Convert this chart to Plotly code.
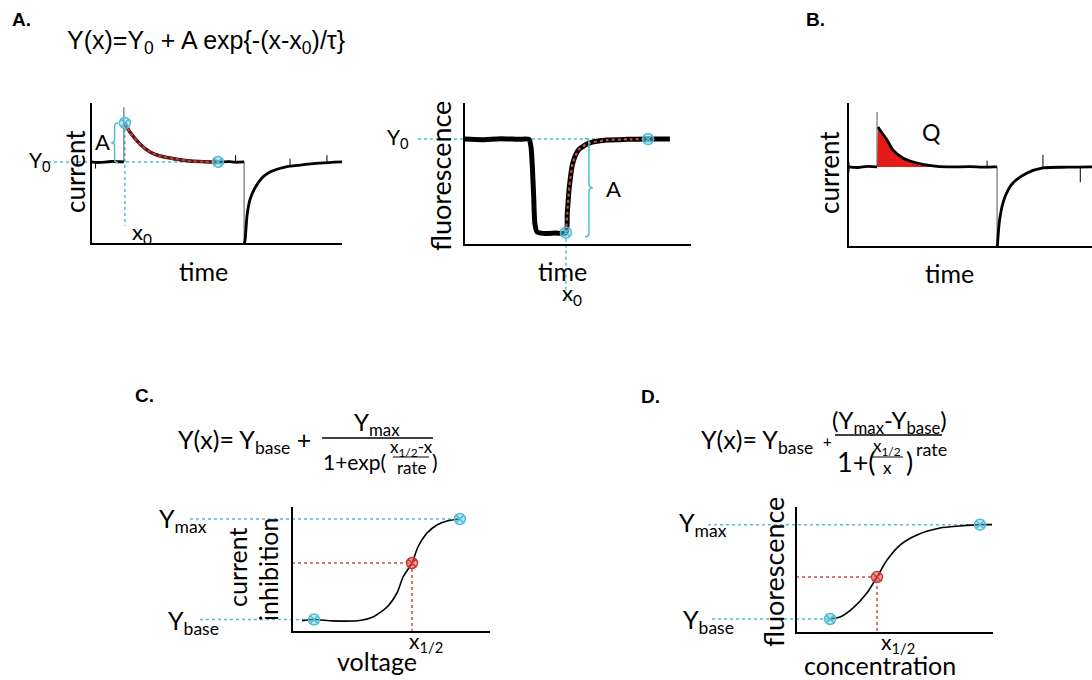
import plotly.graph_objects as go

W, H = 1092, 680

# ---------------- DATA (arbitrary units 0-100) ----------------
# Panel A (left): current trace
a1_time    = [0, 3, 8, 13.1, None, 13.5, 15.5, 19.5, 23.5, 27.5, 33.5, 39.4, 45.0, 50.6, 55.0, 57.4, 61.0,
              None, 61.1, 61.4, 62.2, 63.3, 65.3, 68.1, 71.3, 77.3, 83.3, 91.2, 100]
a1_current = [58.2, 57.8, 58.5, 58.2, None, 85.8, 79.4, 70.9, 65.2, 62.4, 60.3, 58.9, 58.4, 58.2, 58.4, 58.0, 58.2,
              None, 0.0, 2.8, 20.6, 31.2, 39.7, 46.8, 51.1, 54.6, 56.0, 57.4, 58.2]
a1_fit_time    = [13.5, 15.5, 19.5, 23.5, 27.5, 33.5, 39.4, 45.0, 50.6]
a1_fit_current = [85.8, 79.4, 70.9, 65.2, 62.4, 60.3, 58.9, 58.4, 58.2]
a1_transient_time    = [13.1, 13.1, None, 61.0, 61.0]
a1_transient_current = [97.0, 58.2, None, 58.2, 0.0]
a1_spike_time    = [1.8, 1.8, None, 57.6, 57.6, None, 79.3, 79.3, None, 94.0, 94.0]
a1_spike_current = [58.2, 53.5, None, 58.2, 63.0, None, 55.0, 60.5, None, 57.8, 63.0]
a1_points_time    = [13.5, 50.6]
a1_points_current = [85.8, 58.2]
a1_y0 = 58.2
a1_x0 = 13.5

# Panel A (right): fluorescence trace
a2_time  = [0, 8, 16, 24, 28.6, 29.5, 30.1, 30.7, 31.2, 32.1, 35.0, 40.0, 44.9, 45.5, 46.4, 47.9,
            50.4, 54.8, 62.9, 72.0, 81.1, 90.7]
a2_fluor = [74.6, 74.2, 74.9, 74.4, 74.4, 69.2, 55.2, 34.0, 15.3, 9.4, 8.2, 8.4, 8.7, 22.5, 41.0, 57.5,
            66.9, 71.6, 73.9, 74.4, 74.6, 74.6]
a2_fit_time  = [44.9, 45.5, 46.4, 47.9, 50.4, 54.8, 62.9, 72.0, 81.1]
a2_fit_fluor = [8.7, 22.5, 41.0, 57.5, 66.9, 71.6, 73.9, 74.4, 74.6]
a2_points_time  = [44.9, 81.1]
a2_points_fluor = [8.7, 74.6]
a2_y0 = 74.6
a2_x0 = 44.9

# Panel B: current trace with integrated charge Q
b_time    = [0, 4, 8, 11.9, None, 12.3, 13.1, 16.0, 18.4, 22.5, 28.3, 34.8, 40.6, 50.0, 55.0, 59.4, 61.1,
             None, 61.2, 62.3, 64.3, 67.6, 73.4, 79.9, 90.0, 100]
b_current = [55.6, 55.2, 56.0, 55.6, None, 83.3, 81.3, 74.3, 67.4, 61.8, 58.3, 56.3, 55.6, 55.8, 55.4, 55.6, 55.6,
             None, 0.0, 20.8, 34.7, 44.4, 51.4, 54.9, 55.4, 55.6]
b_spike_time    = [0.4, 0.4, None, 57.0, 57.0, None, 79.9, 79.9, None, 95.2, 95.2]
b_spike_current = [52.0, 59.0, None, 55.6, 60.0, None, 54.9, 64.0, None, 55.6, 45.0]
b_q_time    = [11.9, 12.3, 13.1, 16.0, 18.4, 22.5, 28.3, 34.8, 40.6, 50.0, 57.0]
b_q_current = [55.6, 83.3, 81.3, 74.3, 67.4, 61.8, 58.3, 56.3, 55.8, 55.6, 55.6]
b_baseline = 55.6
b_transient_time    = [11.9, 11.9, None, 61.1, 61.1]
b_transient_current = [93.8, 55.6, None, 55.6, 0.0]

# Panel C: current inhibition vs voltage (sigmoid)
c_voltage = [5.1, 11.1, 20.7, 34.3, 40.9, 48.0, 53.0, 56.1, 60.6, 63.6, 68.2, 73.2, 78.3, 84.8]
c_inhib   = [9.0, 10.0, 8.9, 9.2, 12.0, 20.0, 31.2, 44.0, 55.2, 68.0, 79.2, 85.6, 88.8, 90.4]
c_ybase, c_ymax = 10.0, 90.4
c_xhalf, c_yhalf = 60.6, 55.2
c_base_x, c_max_x = 11.1, 84.8

# Panel D: fluorescence vs concentration (Hill)
d_conc  = [17.3, 22.3, 28.9, 36.0, 41.1, 46.2, 52.8, 61.4, 73.1, 83.2, 93.4, 99.5]
d_fluor = [11.1, 12.7, 19.8, 31.7, 44.4, 57.9, 69.8, 77.8, 83.3, 84.9, 86.0, 86.0]
d_ybase, d_ymax = 11.1, 86.0
d_xhalf, d_yhalf = 41.1, 44.4
d_base_x, d_max_x = 17.3, 93.4

# ---------------- STYLE ----------------
BODY = "Lato"
EQ = "Liberation Sans"
CYAN = "#52BCD6"
CYAN_FILL = "rgba(110,205,230,0.45)"
RED_DOT = "#C0504D"

fig = go.Figure()

# panel geometry in pixels: axis origin (ox, oy), px per unit, and the subplot box (L, T, R, B)
geom = {
    1: dict(ox=91, oy=244, sx=2.51, sy=1.41, box=(20, 90, 352, 310)),
    2: dict(ox=464, oy=245, sx=2.27, sy=1.42, box=(380, 90, 700, 320)),
    3: dict(ox=848, oy=247, sx=2.44, sy=1.44, box=(790, 90, 1092, 300)),
    4: dict(ox=292, oy=632, sx=1.98, sy=1.25, box=(150, 490, 500, 650)),
    5: dict(ox=796, oy=633, sx=1.97, sy=1.26, box=(660, 490, 1000, 650)),
}
layout_axes = {}
for n, g in geom.items():
    L, T, R, B = g["box"]
    sfx = "" if n == 1 else str(n)
    layout_axes["xaxis" + sfx] = dict(domain=[L / W, R / W],
                                      range=[(L - g["ox"]) / g["sx"], (R - g["ox"]) / g["sx"]],
                                      visible=False, anchor="y" + sfx, fixedrange=True)
    layout_axes["yaxis" + sfx] = dict(domain=[1 - B / H, 1 - T / H],
                                      range=[(g["oy"] - B) / g["sy"], (g["oy"] - T) / g["sy"]],
                                      visible=False, anchor="x" + sfx, fixedrange=True)


def ax(n):
    s = "" if n == 1 else str(n)
    return dict(xaxis="x" + s, yaxis="y" + s)


def line(n, x, y, color="black", width=2, dash=None, shape="linear", smoothing=0.8, **kw):
    ln = dict(color=color, width=width, dash=dash, shape=shape)
    if shape == "spline":
        ln["smoothing"] = smoothing
    fig.add_trace(go.Scatter(x=x, y=y, mode="lines", hoverinfo="skip", showlegend=False,
                             line=ln, **ax(n), **kw))


def points(n, x, y, fill, edge, size=11):
    fig.add_trace(go.Scatter(x=x, y=y, mode="markers", hoverinfo="skip", showlegend=False, cliponaxis=False,
                             marker=dict(symbol="circle-x", size=size, color=fill,
                                         line=dict(color=edge, width=1.5)), **ax(n)))


def axes_frame(n):
    line(n, [0, 0, 100], [100, 0, 0], color="black", width=2)


# ---- Panel A left ----
line(1, [-19.5, a1_points_time[1]], [a1_y0, a1_y0], color=CYAN, width=1.5, dash="dot")
line(1, [a1_x0, a1_x0], [a1_points_current[0], 13.0], color=CYAN, width=1.5, dash="dot")
line(1, a1_transient_time, a1_transient_current, color="#555555", width=1)
line(1, a1_spike_time, a1_spike_current, color="black", width=1)
line(1, a1_time, a1_current, color="black", width=2.8, shape="spline")
line(1, a1_fit_time, a1_fit_current, color="#5a1a1a", width=3.5, shape="spline")
line(1, a1_fit_time, a1_fit_current, color="#C04040", width=2, dash="dot", shape="spline")
axes_frame(1)
points(1, a1_points_time, a1_points_current, CYAN_FILL, CYAN)

# ---- Panel A right ----
line(2, [-20.3, a2_points_time[1]], [a2_y0, a2_y0], color=CYAN, width=1.5, dash="dot")
line(2, [a2_x0, a2_x0], [a2_points_fluor[0], -39], color=CYAN, width=1.5, dash="dot")
line(2, a2_time, a2_fluor, color="black", width=5, shape="spline", smoothing=0.6)
line(2, a2_fit_time, a2_fit_fluor, color="#C05050", width=2.2, dash="dot", shape="spline", smoothing=0.6)
axes_frame(2)
points(2, a2_points_time, a2_points_fluor, CYAN_FILL, CYAN)

# ---- Panel B ----
fig.add_trace(go.Scatter(x=b_q_time + [b_q_time[-1], b_q_time[0]],
                         y=b_q_current + [b_baseline, b_baseline],
                         mode="lines", fill="toself", fillcolor="#E51A1A", line=dict(width=0),
                         hoverinfo="skip", showlegend=False, **ax(3)))
line(3, b_transient_time, b_transient_current, color="#555555", width=1)
line(3, b_spike_time, b_spike_current, color="black", width=1)
line(3, b_time, b_current, color="black", width=2.8, shape="spline")
axes_frame(3)

# ---- Panel C ----
line(4, [-51.5, c_max_x], [c_ymax, c_ymax], color=CYAN, width=1.5, dash="dot")
line(4, [-46.5, c_base_x], [c_ybase, c_ybase], color=CYAN, width=1.5, dash="dot")
line(4, [0, c_xhalf, c_xhalf], [c_yhalf, c_yhalf, 0], color=RED_DOT, width=1.5, dash="dot")
line(4, c_voltage, c_inhib, color="black", width=1.6, shape="spline", smoothing=0.7)
axes_frame(4)
points(4, [c_base_x, c_max_x], [c_ybase, c_ymax], CYAN_FILL, CYAN)
points(4, [c_xhalf], [c_yhalf], "rgba(235,90,90,0.55)", "#D03636")

# ---- Panel D ----
line(5, [-44.7, d_max_x], [d_ymax, d_ymax], color=CYAN, width=1.5, dash="dot")
line(5, [-42.6, d_base_x], [d_ybase, d_ybase], color=CYAN, width=1.5, dash="dot")
line(5, [0, d_xhalf, d_xhalf], [d_yhalf, d_yhalf, 0], color=RED_DOT, width=1.5, dash="dot")
line(5, d_conc, d_fluor, color="black", width=1.6, shape="spline", smoothing=0.7)
axes_frame(5)
points(5, [d_base_x, d_max_x], [d_ybase, d_ymax], CYAN_FILL, CYAN)
points(5, [d_xhalf], [d_yhalf], "rgba(235,90,90,0.55)", "#D03636")


# ---------------- braces (cyan) ----------------
def brace(n, xa, xt, y0, y1, d):
    xm = (xa + xt) / 2
    ym = (y0 + y1) / 2
    p = (f"M {xa},{y1} Q {xm},{y1} {xm},{y1 - d} L {xm},{ym + d} Q {xm},{ym} {xt},{ym} "
         f"Q {xm},{ym} {xm},{ym - d} L {xm},{y0 + d} Q {xm},{y0} {xa},{y0}")
    s = "" if n == 1 else str(n)
    return dict(type="path", path=p, xref="x" + s, yref="y" + s, line=dict(color=CYAN, width=1.5))


shapes = [
    brace(1, 10.8, 8.0, a1_y0 - 0.5, a1_points_current[0], 2.5),
    brace(2, 53.3, 56.8, 5.6, a2_y0 + 0.5, 3.0),
]


# ---------------- text ----------------
def px(x):
    return x / W


def py(y):
    return 1 - y / H


annotations = []


def txt(text, x, y, size, font=BODY, xanchor="center", yanchor="middle", angle=0, color="black"):
    annotations.append(dict(text=text, x=px(x), y=py(y), xref="paper", yref="paper", showarrow=False,
                            xanchor=xanchor, yanchor=yanchor, textangle=angle,
                            font=dict(family=font, size=size, color=color)))


def hline(x0, x1, y, w=1.3):
    shapes.append(dict(type="line", xref="paper", yref="paper", x0=px(x0), x1=px(x1), y0=py(y), y1=py(y),
                       line=dict(color="black", width=w)))


# panel letters
txt("<b>A.</b>", 10, 19, 19, font=EQ, xanchor="left")
txt("<b>B.</b>", 804, 19, 19, font=EQ, xanchor="left")
txt("<b>C.</b>", 133, 395, 19, font=EQ, xanchor="left")
txt("<b>D.</b>", 639, 396, 19, font=EQ, xanchor="left")

# panel A equation
txt("Y(x)=Y<sub>0</sub> + A exp{-(x-x<sub>0</sub>)/τ}", 65, 42, 25, font=EQ, xanchor="left")

# panel A left labels
txt("Y<sub>0</sub>", 27, 161, 21, xanchor="left")
txt("A", 102, 141, 22)
txt("x<sub>0</sub>", 130, 233, 22, xanchor="left")
txt("current", 75, 172, 26, angle=-90)
txt("time", 203, 271, 25)

# panel A right labels
txt("Y<sub>0</sub>", 385, 138, 21, xanchor="left")
txt("fluorescence", 441, 176, 27, angle=-90)
txt("time", 562, 271, 25)
txt("x<sub>0</sub>", 560, 294, 22, xanchor="left")
txt("A", 613, 188, 22)

# panel B labels
txt("Q", 931, 132, 23)
txt("current", 829, 173, 26, angle=-90)
txt("time", 949, 273, 25)

# panel C equation
txt("Y(x)= Y<sub>base</sub> +", 176, 441, 25, xanchor="left")
txt("Y<sub>max</sub>", 377, 423, 24)
hline(322, 433, 438)
txt("1+exp(", 321, 461, 21, xanchor="left")
txt("x<sub>1/2</sub>-x", 411, 448, 17)
hline(393, 429, 457, 1)
txt("rate", 411, 467, 17)
txt(")", 430, 461, 21, xanchor="left")

# panel C labels
txt("Y<sub>max</sub>", 157, 520, 25, xanchor="left")
txt("Y<sub>base</sub>", 166, 622, 25, xanchor="left")
txt("current", 237, 567, 25, angle=-90)
txt("inhibition", 268, 570, 25, angle=-90)
txt("x<sub>1/2</sub>", 407, 642, 21, xanchor="left")
txt("voltage", 377, 661, 25)

# panel D equation
txt("Y(x)= Y<sub>base</sub>", 699, 441, 25, xanchor="left")
txt("+", 827, 441, 15)
txt("(Y<sub>max</sub>-Y<sub>base</sub>)", 889, 421, 24)
hline(835, 942, 435)
txt("1+(", 835, 461, 27, xanchor="left")
txt("x<sub>1/2</sub>", 887, 447, 17)
hline(871, 903, 457, 1)
txt("x", 887, 467, 17)
txt(")", 904, 461, 27, xanchor="left")
txt("rate", 914, 449, 18, xanchor="left")

# panel D labels
txt("Y<sub>max</sub>", 677, 524, 25, xanchor="left")
txt("Y<sub>base</sub>", 681, 621, 25, xanchor="left")
txt("fluorescence", 773, 572, 27, angle=-90)
txt("x<sub>1/2</sub>", 879, 643, 21, xanchor="left")
txt("concentration", 880, 665, 25)

fig.update_layout(width=W, height=H, margin=dict(l=0, r=0, t=0, b=0), autosize=False,
                  paper_bgcolor="white", plot_bgcolor="white", shapes=shapes, annotations=annotations,
                  showlegend=False, font=dict(family=BODY), **layout_axes)

fig.write_html("out.html", config={"displayModeBar": False},
               post_script="document.body.style.margin='0px';document.body.style.overflow='hidden';")
